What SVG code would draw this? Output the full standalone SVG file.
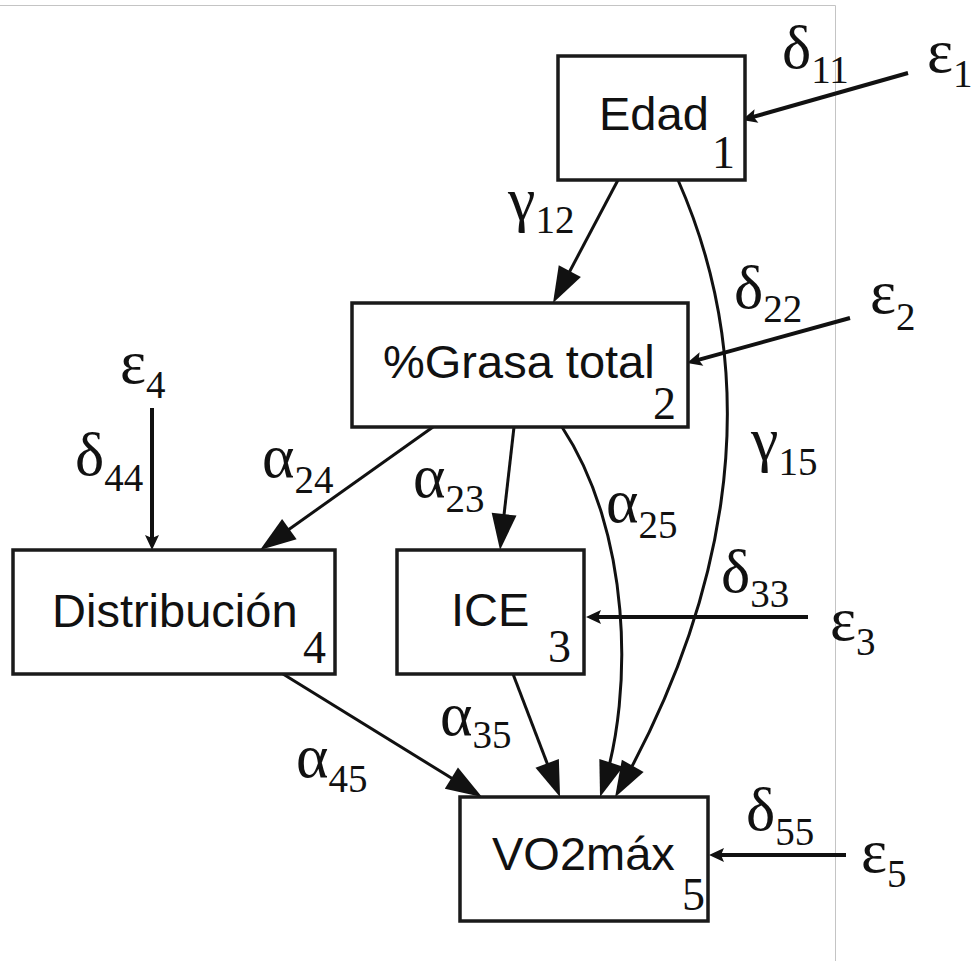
<svg xmlns="http://www.w3.org/2000/svg" width="972" height="961" viewBox="0 0 972 961">
<style>
.box{fill:#fff;stroke:#1a1a1a;stroke-width:3.5}
.bt{font-family:"Liberation Sans",Arial,sans-serif;font-size:47px;fill:#111}
.bn{font-family:"Liberation Serif","Times New Roman",serif;font-size:46px;fill:#111}
.g{font-family:"Liberation Serif","DejaVu Serif","Times New Roman",serif;font-size:62px;fill:#111}
.s{font-size:39px}
.e{fill:none;stroke:#111;stroke-width:3;marker-end:url(#big)}
.r{fill:none;stroke:#111;stroke-width:4;marker-end:url(#small)}
.frame{fill:none;stroke:#c4c4c4;stroke-width:1}
</style>
<defs>
<marker id="big" markerUnits="userSpaceOnUse" markerWidth="40" markerHeight="26" refX="30" refY="12.5" orient="auto" overflow="visible">
<path d="M0,0 L36,12.5 L0,25 z" fill="#111"/>
</marker>
<marker id="small" markerUnits="userSpaceOnUse" markerWidth="16" markerHeight="15" refX="9" refY="7" orient="auto" overflow="visible">
<path d="M0,0 L15,7 L0,14 L3,7 z" fill="#111"/>
</marker>
</defs>
<rect width="972" height="961" fill="#fff"/>
<path class="frame" d="M0,5.5 H835.5 V961"/>
<g id="connectors">
<path class="e" d="M618,180 L555.8,297.7"/>
<path class="e" d="M678,180 C775,400 715,620 618,792"/>
<path class="e" d="M433,427 L264.9,546.5"/>
<path class="e" d="M514,427 L500.7,544"/>
<path class="e" d="M562,427 C630,530 635,690 601.9,791.3"/>
<path class="e" d="M283,674 L476.9,793.8"/>
<path class="e" d="M513,674 L557.9,791.4"/>
<path class="r" d="M908,73 L747.8,118.4"/>
<path class="r" d="M850,318 L692.8,361.4"/>
<path class="r" d="M152,408 L152,544"/>
<path class="r" d="M808,617 L592,617"/>
<path class="r" d="M846,855 L715,855"/>
</g>
<g id="labels">
<text class="g" x="782" y="68">δ<tspan class="s" dy="15">11</tspan></text>
<text class="g" x="927" y="72">ε<tspan class="s" dy="15">1</tspan></text>
<text class="g" x="508" y="220">γ<tspan class="s" dy="13">12</tspan></text>
<text class="g" x="734" y="308">δ<tspan class="s" dy="14">22</tspan></text>
<text class="g" x="870" y="313">ε<tspan class="s" dy="17">2</tspan></text>
<text class="g" x="120" y="383">ε<tspan class="s" dy="15">4</tspan></text>
<text class="g" x="75" y="475">δ<tspan class="s" dy="16">44</tspan></text>
<text class="g" x="262" y="477">α<tspan class="s" dy="16">24</tspan></text>
<text class="g" x="413" y="497">α<tspan class="s" dy="15">23</tspan></text>
<text class="g" x="606" y="522">α<tspan class="s" dy="16">25</tspan></text>
<text class="g" x="751" y="460">γ<tspan class="s" dy="15">15</tspan></text>
<text class="g" x="721" y="592">δ<tspan class="s" dy="15">33</tspan></text>
<text class="g" x="830" y="640">ε<tspan class="s" dy="15">3</tspan></text>
<text class="g" x="440" y="735">α<tspan class="s" dy="13">35</tspan></text>
<text class="g" x="296" y="777">α<tspan class="s" dy="15">45</tspan></text>
<text class="g" x="746" y="830">δ<tspan class="s" dy="15">55</tspan></text>
<text class="g" x="861" y="872">ε<tspan class="s" dy="15">5</tspan></text>
</g>
<g id="edad">
<rect class="box" x="558" y="56" width="187" height="124"/>
<text class="bt" x="599" y="130">Edad</text>
<text class="bn" x="712" y="168">1</text>
</g>
<g id="grasa">
<rect class="box" x="352" y="303" width="336" height="124"/>
<text class="bt" x="383" y="378">%Grasa total</text>
<text class="bn" x="653" y="419">2</text>
</g>
<g id="distribucion">
<rect class="box" x="13" y="550" width="322" height="124"/>
<text class="bt" x="52" y="627">Distribución</text>
<text class="bn" x="303" y="663">4</text>
</g>
<g id="ice">
<rect class="box" x="397" y="550" width="187" height="124"/>
<text class="bt" x="451" y="626">ICE</text>
<text class="bn" x="548" y="662">3</text>
</g>
<g id="vo2">
<rect class="box" x="460" y="797" width="248" height="124"/>
<text class="bt" x="492" y="870">VO2máx</text>
<text class="bn" x="682" y="910">5</text>
</g>
</svg>
